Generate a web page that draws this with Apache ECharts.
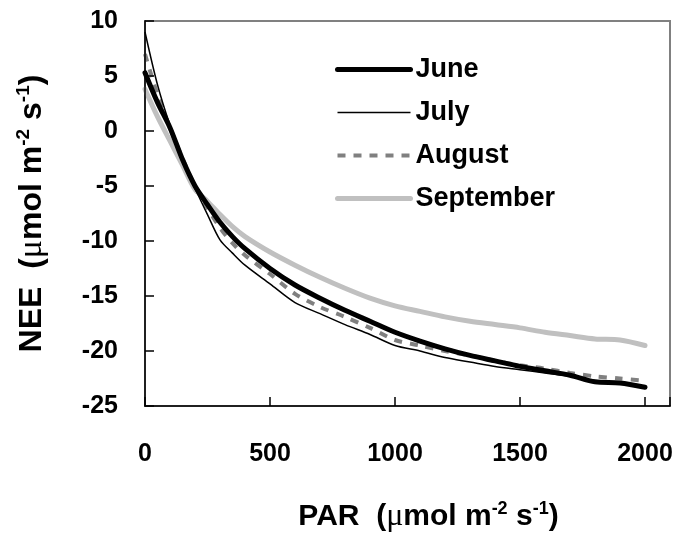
<!DOCTYPE html>
<html>
<head>
<meta charset="utf-8">
<script src="https://cdn.jsdelivr.net/npm/echarts@6/dist/echarts.min.js"></script>
<style>
  html, body { margin: 0; padding: 0; background: #fff; }
  #chart { width: 684px; height: 548px; }
</style>
</head>
<body>
<div id="chart"></div>
<script>
// Light response of net ecosystem exchange, by month
const par = [0, 50, 100, 150, 200, 250, 300, 350, 400, 500, 600, 700, 800, 900,
             1000, 1100, 1200, 1300, 1400, 1500, 1600, 1700, 1800, 1900, 2000];

const june = [5.3, 2.6, 0.3, -2.6, -5.0, -6.7, -8.3, -9.6, -10.7, -12.5, -14.0, -15.2, -16.3, -17.3,
              -18.3, -19.1, -19.8, -20.4, -20.9, -21.4, -21.8, -22.2, -22.8, -22.9, -23.3];
const july = [9.0, 4.2, 0.5, -2.6, -5.2, -7.6, -9.9, -11.1, -12.2, -13.9, -15.6, -16.6, -17.6, -18.5,
              -19.5, -20.0, -20.6, -21.0, -21.4, -21.7, -22.0, -22.3, -22.7, -22.9, -23.2];
const august = [7.0, 3.3, 0.3, -2.5, -5.0, -7.0, -8.8, -10.2, -11.3, -13.0, -14.8, -16.0, -16.9, -17.9,
                -19.0, -19.5, -20.0, -20.4, -20.9, -21.3, -21.6, -22.0, -22.3, -22.5, -22.7];
const september = [3.8, 1.3, -0.9, -3.1, -5.3, -6.4, -7.6, -8.7, -9.6, -11.0, -12.2, -13.3, -14.3, -15.2,
                   -15.9, -16.4, -16.9, -17.3, -17.6, -17.9, -18.3, -18.6, -18.9, -19.0, -19.5];

const monthNames = ['June', 'July', 'August', 'September'];
const xTickLabels = ['0', '500', '1000', '1500', '2000'];
const yTickLabels = ['-25', '-20', '-15', '-10', '-5', '0', '5', '10'];

const FONT = '"Liberation Sans", Arial, sans-serif';

function pairs(values) {
  return par.map((p, i) => [p, values[i]]);
}

function unitRich(size, supSize) {
  return {
    b: { fontFamily: FONT, fontWeight: 'bold', fontSize: size, color: '#000', lineHeight: size + 4, verticalAlign: 'middle' },
    mu: { fontFamily: '"Liberation Serif", serif', fontWeight: 'normal', fontSize: size + 2, color: '#000', lineHeight: size + 4, verticalAlign: 'middle' },
    sup: { fontFamily: FONT, fontWeight: 'bold', fontSize: supSize, color: '#000', lineHeight: supSize, verticalAlign: 'top' }
  };
}

function tickText(list) {
  return function (v) {
    const s = String(v);
    return list.indexOf(s) >= 0 ? s : '';
  };
}

const tickStyle = { show: true, inside: true, length: 9, lineStyle: { color: '#000', width: 1.5, opacity: 1 } };

const chart = echarts.init(document.getElementById('chart'), null, { renderer: 'canvas' });

chart.setOption({
  animation: false,
  backgroundColor: '#fff',
  grid: {
    left: 145, right: 14, top: 21, bottom: 142,
    show: true, borderColor: '#808080', borderWidth: 2, backgroundColor: 'transparent', z: 0
  },
  legend: {
    data: monthNames,
    orient: 'vertical',
    left: 330,
    top: 51,
    itemWidth: 73,
    itemHeight: 20,
    itemGap: 16,
    itemStyle: { opacity: 0 },
    lineStyle: { width: 'inherit', type: 'inherit', cap: 'inherit' },
    textStyle: { fontFamily: FONT, fontWeight: 'bold', fontSize: 27, color: '#000' }
  },
  xAxis: {
    type: 'value',
    min: 0, max: 2100, interval: 500,
    z: 10,
    axisLine: { show: true, onZero: false, lineStyle: { color: '#000', width: 1.5 } },
    axisTick: tickStyle,
    axisLabel: { margin: 36, fontFamily: FONT, fontWeight: 'bold', fontSize: 25, color: '#000',
                 formatter: tickText(xTickLabels) },
    splitLine: { show: false },
    name: '{b|PAR  (}{mu|μ}{b|mol m}{sup|-2}{b| s}{sup|-1}{b|)}',
    nameLocation: 'middle',
    nameGap: 94,
    nameTextStyle: { rich: unitRich(30, 18), padding: [0, 0, 0, 42] }
  },
  yAxis: {
    type: 'value',
    min: -25, max: 10, interval: 5,
    z: 10,
    axisLine: { show: true, onZero: false, lineStyle: { color: '#000', width: 1.5 } },
    axisTick: tickStyle,
    axisLabel: { margin: 27, fontFamily: FONT, fontWeight: 'bold', fontSize: 25, color: '#000',
                 formatter: tickText(yTickLabels) },
    splitLine: { show: false },
    name: '{b|NEE  (}{mu|μ}{b|mol m}{sup|-2}{b| s}{sup|-1}{b|)}',
    nameLocation: 'middle',
    nameRotate: 90,
    nameGap: 95,
    nameTextStyle: { rich: unitRich(32, 19) }
  },
  series: [
    {
      name: 'June', type: 'line', data: pairs(june), symbol: 'none', smooth: 0.3, z: 4,
      lineStyle: { color: '#000', width: 5, cap: 'round' }, itemStyle: { color: '#000' }
    },
    {
      name: 'July', type: 'line', data: pairs(july), symbol: 'none', smooth: 0.3, z: 5,
      lineStyle: { color: '#000', width: 1.5 }, itemStyle: { color: '#000' }
    },
    {
      name: 'August', type: 'line', data: pairs(august), symbol: 'none', smooth: 0.3, z: 3,
      lineStyle: { color: '#808080', width: 4, type: [8, 8] }, itemStyle: { color: '#808080' }
    },
    {
      name: 'September', type: 'line', data: pairs(september), symbol: 'none', smooth: 0.3, z: 2,
      lineStyle: { color: '#c0c0c0', width: 5, cap: 'round' }, itemStyle: { color: '#c0c0c0' }
    }
  ]
});
</script>
</body>
</html>
